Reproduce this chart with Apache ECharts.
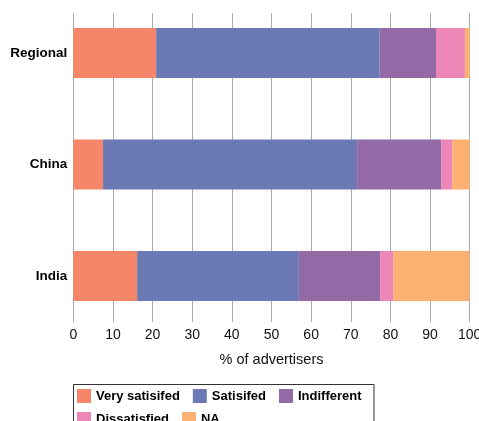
<!DOCTYPE html>
<html>
<head>
<meta charset="utf-8">
<script src="https://cdn.jsdelivr.net/npm/echarts@6/dist/echarts.min.js"></script>
<style>
html,body{margin:0;padding:0;background:#fff;}
#chart{width:479px;height:421px;}
</style>
</head>
<body>
<div id="chart"></div>
<script>
var categories = ['Regional', 'China', 'India'];
var seriesNames = ['Very satisifed', 'Satisifed', 'Indifferent', 'Dissatisfied', 'NA'];
var verySatisfied = [20.9, 7.5, 16.1];
var satisfied = [56.4, 64.1, 40.8];
var indifferent = [14.2, 21.2, 20.5];
var dissatisfied = [7.3, 2.8, 3.3];
var na = [1.2, 4.4, 19.3];
var xTicks = [0, 10, 20, 30, 40, 50, 60, 70, 80, 90, 100];

var colors = ['#F5866A', '#6B7AB5', '#936AA6', '#EC86B6', '#FCB072'];
var values = [verySatisfied, satisfied, indifferent, dissatisfied, na];

var chart = echarts.init(document.getElementById('chart'), null, {renderer: 'canvas'});

var legendText = {fontFamily: 'Liberation Sans', fontWeight: 'bold', fontSize: 13, color: '#000'};

var option = {
  animation: false,
  backgroundColor: '#fff',
  color: colors,
  grid: [
    {left: 73.3, width: 396.4, top: -2.75, height: 334.5, containLabel: false, outerBoundsMode: 'none'},
    {left: 73.3, width: 396.4, top: 13, height: 309, containLabel: false, outerBoundsMode: 'none'}
  ],
  xAxis: [
    {gridIndex: 0, type: 'value', min: 0, max: 100, show: false},
    {
      gridIndex: 1, type: 'value', min: xTicks[0], max: xTicks[xTicks.length - 1], interval: 10,
      axisLine: {show: false},
      axisTick: {show: false},
      splitLine: {show: true, lineStyle: {color: '#ABABAB', width: 1}},
      axisLabel: {margin: 6, color: '#111', fontFamily: 'Liberation Sans', fontSize: 14},
      name: '% of advertisers',
      nameLocation: 'middle',
      nameGap: 30,
      nameTextStyle: {color: '#111', fontFamily: 'Liberation Sans', fontSize: 14.5}
    }
  ],
  yAxis: [
    {
      gridIndex: 0, type: 'category', data: categories, inverse: true,
      axisLine: {show: false}, axisTick: {show: false}, splitLine: {show: false},
      axisLabel: {margin: 6, color: '#000', fontFamily: 'Liberation Sans', fontWeight: 'bold', fontSize: 13.5}
    },
    {gridIndex: 1, type: 'value', min: 0, max: 1, show: false}
  ],
  legend: [
    {
      left: 77, top: 389, padding: 0, itemGap: 13, itemWidth: 14, itemHeight: 14,
      icon: 'rect', textStyle: legendText,
      data: [
        {name: seriesNames[0], textStyle: {width: 85}},
        {name: seriesNames[1], textStyle: {width: 55}},
        seriesNames[2]
      ]
    },
    {
      left: 77, top: 412, padding: 0, itemGap: 13, itemWidth: 14, itemHeight: 14,
      icon: 'rect', textStyle: legendText,
      data: [
        {name: seriesNames[3], textStyle: {width: 85}},
        seriesNames[4]
      ]
    }
  ],
  graphic: [
    {
      type: 'rect', silent: true,
      shape: {x: 73.5, y: 384.5, width: 300.5, height: 60},
      style: {fill: 'none', stroke: '#333', lineWidth: 1}
    }
  ],
  series: seriesNames.map(function (n, i) {
    return {
      name: n, type: 'bar', stack: 'total', xAxisIndex: 0, yAxisIndex: 0,
      barWidth: 50, data: values[i],
      itemStyle: {color: colors[i]}
    };
  })
};
chart.setOption(option);
</script>
</body>
</html>
